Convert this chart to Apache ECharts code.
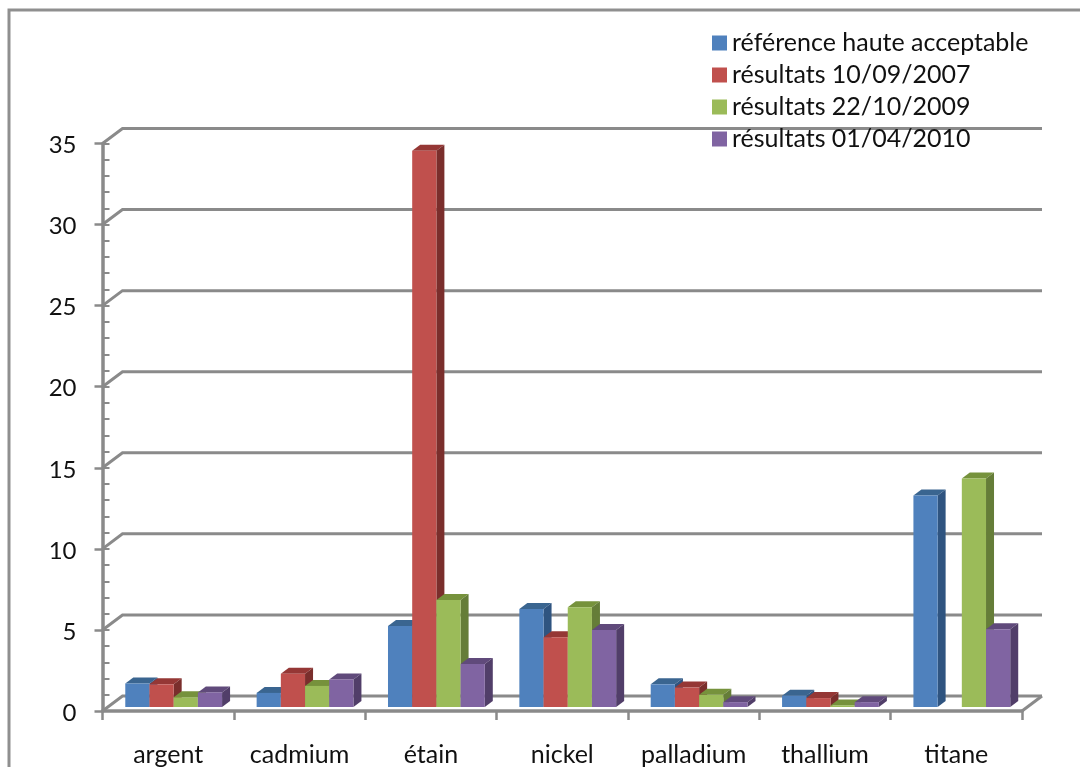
<!DOCTYPE html>
<html><head><meta charset="utf-8">
<style>html,body{margin:0;padding:0;background:#fff}#c{width:1080px;height:767px}</style>
<script src="https://cdn.jsdelivr.net/npm/echarts@6/dist/echarts.min.js"></script>
</head><body><div id="c"></div>
<script>
const categories = ['argent','cadmium','étain','nickel','palladium','thallium','titane'];
const seriesNames = ['référence haute acceptable','résultats 10/09/2007','résultats 22/10/2009','résultats 01/04/2010'];
const reference = [1.45, 0.87, 5, 6.05, 1.4, 0.7, 13.05];
const results2007 = [1.4, 2.05, 34.3, 4.3, 1.2, 0.55, null];
const results2009 = [0.6, 1.3, 6.6, 6.15, 0.75, 0.1, 14.1];
const results2010 = [0.9, 1.7, 2.65, 4.75, 0.3, 0.3, 4.8];
const yTicks = [0,5,10,15,20,25,30,35];
const faceColors = [
  ['#4F81BD','#3A6590','#2F5480'],
  ['#C0504D','#953735','#7A2E2C'],
  ['#9BBB59','#76923C','#657D38'],
  ['#8064A2','#604A7B','#513E69']
];
const GREY = '#8A8A8A', FONT = 'Lato';
const WALL_DX = 20, WALL_DY = -15, BAR_DX = 5.5, BAR_DY = -4, SIDE_DX = 8, SIDE_DY = -6, BAR_W = 24.2;

function renderWall(params, api) {
  const v = api.value(0), p = api.coord([0, v]), cs = params.coordSys;
  const x0 = cs.x, x1 = cs.x + cs.width, y = p[1];
  const style = {stroke: GREY, lineWidth: 3, fill: null};
  const children = [{type:'polyline', shape:{points:[[x0,y],[x0+WALL_DX,y+WALL_DY],[x1+WALL_DX,y+WALL_DY]]}, style}];
  if (v === 0) children.push({type:'line', shape:{x1:x1,y1:y,x2:x1+WALL_DX,y2:y+WALL_DY}, style});
  return {type:'group', children};
}
function makeBarRenderer(idx) {
  return function (params, api) {
    const val = api.value(1);
    if (val == null || isNaN(val)) return;
    const c = api.coord([api.value(0), val]), b = api.coord([api.value(0), 0]);
    const x = c[0] + BAR_DX + (idx - 2) * BAR_W, top = c[1] + BAR_DY, bot = b[1] + BAR_DY, r = x + BAR_W;
    const col = faceColors[idx];
    return {type:'group', children:[
      {type:'polygon', shape:{points:[[x,top],[x+SIDE_DX,top+SIDE_DY],[r+SIDE_DX,top+SIDE_DY],[r,top]]}, style:{fill:col[1]}},
      {type:'polygon', shape:{points:[[r,top],[r+SIDE_DX,top+SIDE_DY],[r+SIDE_DX,bot+SIDE_DY],[r,bot]]}, style:{fill:col[2]}},
      {type:'rect', shape:{x:x,y:top,width:BAR_W,height:bot-top}, style:{fill:col[0]}}
    ]};
  };
}
const allValues = [reference, results2007, results2009, results2010];
const barSeries = allValues.map((vals, i) => ({
  name: seriesNames[i], type:'custom', clip:false, z:3,
  itemStyle:{color:faceColors[i][0]},
  encode:{x:0,y:1},
  renderItem: makeBarRenderer(i),
  data: vals.map((v, k) => [k, v])
}));
const chart = echarts.init(document.getElementById('c'));
chart.setOption({
  animation:false,
  backgroundColor:'#fff',
  textStyle:{fontFamily:FONT},
  grid:{left:102.5, top:143.5, width:919.5, height:567.5},
  legend:{
    left:707, top:23, orient:'vertical', itemWidth:15, itemHeight:15, itemGap:2, itemStyle:{borderWidth:0}, icon:'rect',
    data:seriesNames, textStyle:{fontFamily:FONT, fontSize:25, color:'#111', lineHeight:30}
  },
  xAxis:{type:'category', data:categories, boundaryGap:true,
    axisLine:{lineStyle:{color:GREY,width:3.5}},
    axisTick:{show:true,length:9,alignWithLabel:false,lineStyle:{color:GREY,width:2.5}},
    axisLabel:{color:'#111',fontSize:25,fontFamily:FONT,margin:31,interval:0}
  },
  yAxis:[
    {type:'value',min:0,max:35,interval:5,position:'left',
      axisLine:{show:true,lineStyle:{color:GREY,width:3.5}},
      axisTick:{show:true,length:8,lineStyle:{color:GREY,width:2.5}},
      axisLabel:{margin:26,formatter:'{n|{value}}',rich:{n:{color:'#111',fontSize:24,fontFamily:FONT,padding:[4,0,0,0]}}},
      splitLine:{show:false}},
    {type:'value',min:0,max:35,interval:1,position:'left',
      axisLine:{show:false},
      axisTick:{show:true,inside:true,length:7,lineStyle:{color:GREY,width:2}},
      axisLabel:{show:false},splitLine:{show:false}}
  ],
  graphic:[{type:'polyline',silent:true,shape:{points:[[9,767],[9,10],[1080,10]]},style:{stroke:'#8F8F8F',lineWidth:3,fill:null}}],
  series:[{type:'custom',name:'wall',clip:false,z:1,renderItem:renderWall,encode:{y:0},data:yTicks.map(v=>[v])}].concat(barSeries)
});
</script></body></html>
